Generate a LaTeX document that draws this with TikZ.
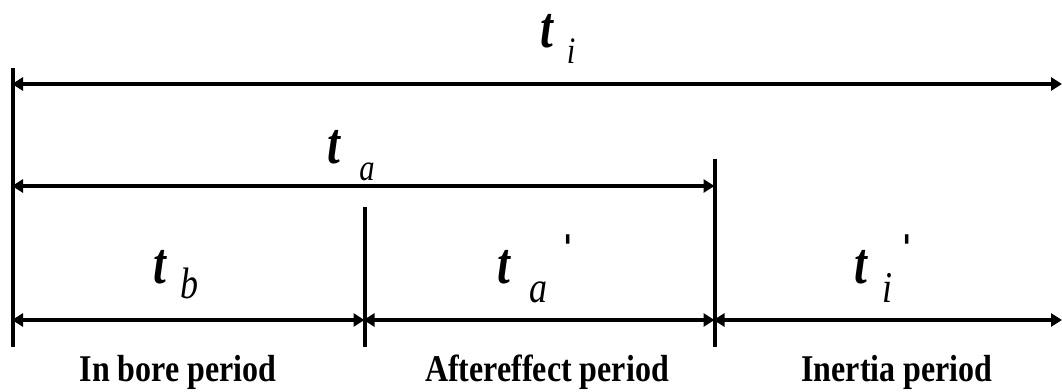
\documentclass[tikz,border=0pt]{standalone}
\usepackage{fontspec}
\setmainfont{Liberation Serif}
\usetikzlibrary{arrows.meta}
\newcommand{\tglyph}{\scalebox{0.82}[1.05]{t}}
\newcommand{\subglyph}[1]{\scalebox{0.9}[1.1]{#1}}
\newcommand{\periodtext}[1]{\scalebox{1.0}[1.18]{#1}}
\newcommand{\primeglyph}{\scalebox{1.6}[1.5]{ˈ}}
\begin{document}
\begin{tikzpicture}[x=1pt,y=-1pt,
  tip/.tip={Triangle[length=11pt,width=13pt]},
  dim/.style={line width=4.5pt,{tip}-{tip}, shorten <=-1pt},
  tick/.style={line width=4pt},
  bigt/.style={font=\fontsize{56}{56}\selectfont\bfseries\itshape, inner sep=0pt, anchor=base},
  subbig/.style={font=\fontsize{40}{40}\selectfont\itshape, inner sep=0pt, anchor=base},
  subsmall/.style={font=\fontsize{34}{34}\selectfont\itshape, inner sep=0pt, anchor=base},
  primemark/.style={font=\fontsize{40}{40}\selectfont\bfseries, inner sep=0pt, anchor=base},
  period/.style={font=\fontsize{32}{34}\selectfont\bfseries, inner sep=0pt, anchor=base}]
\useasboundingbox (0,0) rectangle (1062,391);
% vertical ticks
\coordinate (L0) at (13,68);  \coordinate (L1) at (13,347);
\coordinate (M0) at (364.5,207); \coordinate (M1) at (364.5,347);
\coordinate (A0) at (714.5,159); \coordinate (A1) at (714.5,347);
\coordinate (R) at (1062,320);
\draw[tick] (L0) -- (L1);
\draw[tick] (M0) -- (M1);
\draw[tick] (A0) -- (A1);
% dimension arrows
\coordinate (tiL) at (13,84); \coordinate (tiR) at (1062,84);
\coordinate (taL) at (13,186); \coordinate (taR) at (714.5,186);
\coordinate (bL) at (13,320); \coordinate (bM) at (364.5,320); \coordinate (bA) at (714.5,320);
\draw[dim] (tiL) -- (tiR);
\draw[dim] (taL) -- (taR);
\draw[dim] (bL) -- (bM);
\draw[dim] (bM) -- (bA);
\draw[dim] (bA) -- (R);
% labels
\node[bigt] (ti) at (547,47) {\tglyph};
\node[subsmall] (tisub) at (571,63) {\subglyph{i}};
\node[bigt] (ta) at (334,163) {\tglyph};
\node[subsmall] (tasub) at (367,180) {\subglyph{a}};
\node[bigt] (tb) at (160,283) {\tglyph};
\node[subbig] (tbsub) at (189,298) {\subglyph{b}};
\node[bigt] (tap) at (504,283) {\tglyph};
\node[subbig] (tapsub) at (538,302) {\subglyph{a}};
\node[primemark] (tapprime) at (568,276) {\primeglyph};
\node[bigt] (tip) at (861,283) {\tglyph};
\node[subbig] (tipsub) at (887,302) {\subglyph{i}};
\node[primemark] (tipprime) at (907,276) {\primeglyph};
\node[period] (p1) at (178,381) {\periodtext{In bore period}};
\node[period] (p2) at (547,381) {\periodtext{Aftereffect period}};
\node[period] (p3) at (897,381) {\periodtext{Inertia period}};
\end{tikzpicture}
\end{document}
